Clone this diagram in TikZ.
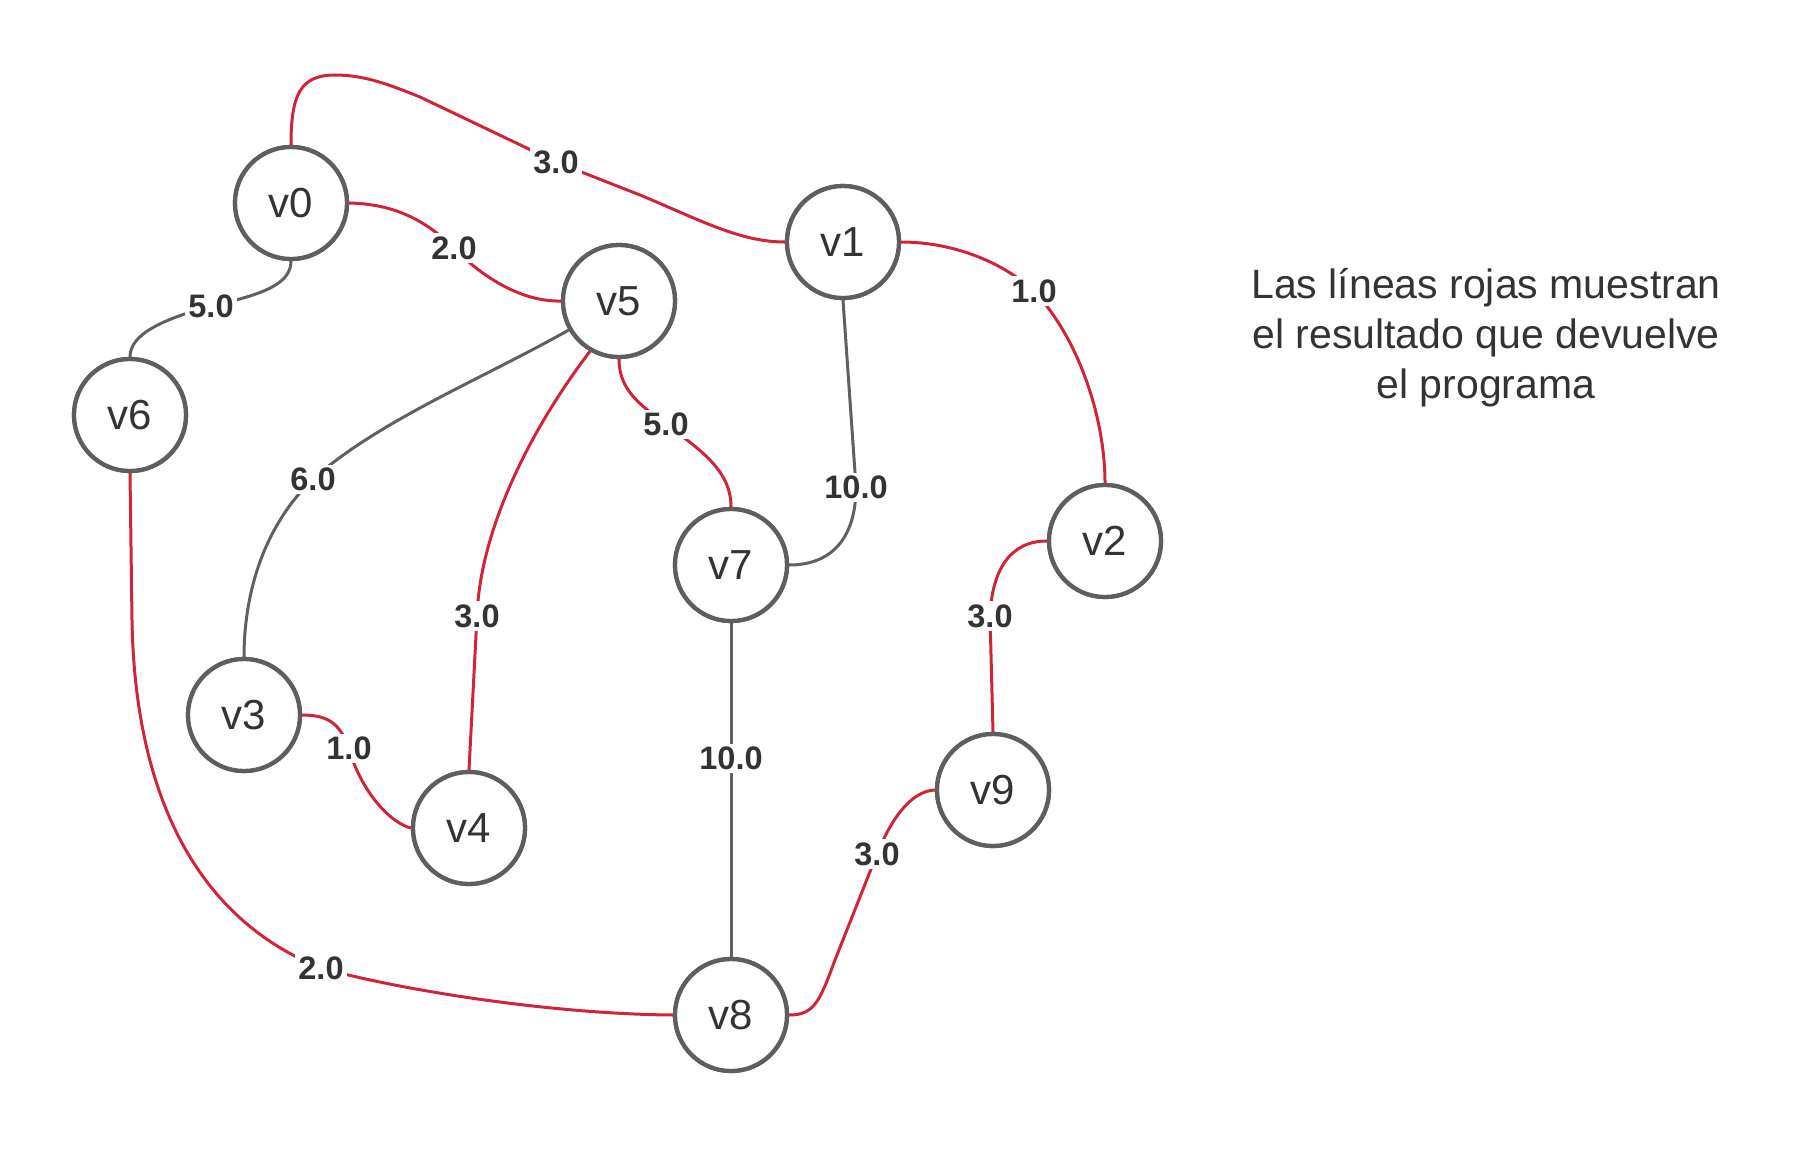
\documentclass[tikz,border=0pt]{standalone}
\usepackage{fontspec}
\setmainfont{Liberation Sans}
\definecolor{edgered}{RGB}{206,38,56}
\definecolor{edgegray}{RGB}{96,96,96}
\definecolor{ringgray}{RGB}{94,94,94}
\definecolor{txt}{RGB}{51,51,51}
\begin{document}
\begin{tikzpicture}[x=1pt,y=-1pt,
  vert/.style={circle,draw=ringgray,line width=4.3pt,minimum size=112pt,inner sep=0pt,fill=white,
    text=txt,font=\fontsize{42}{46}\selectfont},
  redge/.style={draw=edgered,line width=3pt},
  gedge/.style={draw=edgegray,line width=3pt},
  lbl/.style={fill=white,inner sep=3pt,text=txt,font=\fontsize{32.5}{36}\selectfont\bfseries},
  legend/.style={text=txt,anchor=base,inner sep=0pt,font=\fontsize{41}{48}\selectfont}]
\useasboundingbox (0,0) rectangle (1811,1148);
\node[vert] (v0) at (291,203) {v0};
\node[vert] (v1) at (843,242) {v1};
\node[vert] (v5) at (619,301) {v5};
\node[vert] (v6) at (130,415) {v6};
\node[vert] (v2) at (1105,541) {v2};
\node[vert] (v7) at (731,565) {v7};
\node[vert] (v3) at (244,715) {v3};
\node[vert] (v4) at (469,828) {v4};
\node[vert] (v9) at (993,790) {v9};
\node[vert] (v8) at (731,1015) {v8};
\coordinate (c1) at (556,162);
\coordinate (c2) at (454,248);
\coordinate (c3) at (1034,291);
\coordinate (c4) at (666,424);
\coordinate (c5) at (477,616);
\coordinate (c6) at (349,748);
\coordinate (c7) at (321,968);
\coordinate (c8) at (877,854);
\coordinate (c9) at (990,616);
\coordinate (c10) at (211,306);
\coordinate (c11) at (313,479);
\coordinate (c12) at (856,487);
\coordinate (c13) at (731,758);
% red edges
\path[redge] (v0.north) .. controls (291,95) and (300,75) .. (335,75) .. controls (365,75) and (390,85) .. (420,97) -- (c1) -- (640,195) .. controls (700,220) and (740,242) .. (v1.west);
\path[redge] (v0.east) .. controls (400,204) and (430,225) .. (c2) .. controls (480,275) and (520,302) .. (v5.west);
\path[redge] (v1.east) .. controls (950,242) and (1000,260) .. (c3) .. controls (1080,340) and (1105,420) .. (v2.north);
\path[redge] (v5.south) .. controls (619,390) and (640,405) .. (c4) .. controls (700,450) and (731,470) .. (v7.north);
\path[redge] (v5.-120) .. controls (530,430) and (480,530) .. (c5) -- (v4.north);
\path[redge] (v3.east) .. controls (330,715) and (340,725) .. (c6) .. controls (360,790) and (390,823) .. (v4.west);
\path[redge] (v6.south) -- (132,620) .. controls (135,800) and (200,920) .. (c7) .. controls (400,990) and (550,1014) .. (v8.west);
\path[redge] (v8.east) .. controls (815,1015) and (820,1000) .. (835,960) -- (c8) .. controls (895,810) and (915,791) .. (v9.west);
\path[redge] (v2.west) .. controls (1010,541) and (992,570) .. (c9) -- (v9.north);
% gray edges
\path[gedge] (v0.south) .. controls (291,285) and (260,295) .. (c10) .. controls (160,320) and (130,335) .. (v6.north);
\path[gedge] (v5.-150) .. controls (480,380) and (380,420) .. (c11) .. controls (260,530) and (244,600) .. (v3.north);
\path[gedge] (v1.south) -- (c12) .. controls (856,540) and (830,565) .. (v7.east);
\path[gedge] (v7.south) -- (c13) -- (v8.north);
% labels
\node[lbl] (l1) at (c1) {3.0};
\node[lbl] (l2) at (c2) {2.0};
\node[lbl] (l3) at (c3) {1.0};
\node[lbl] (l4) at (c4) {5.0};
\node[lbl] (l5) at (c5) {3.0};
\node[lbl] (l6) at (c6) {1.0};
\node[lbl] (l7) at (c7) {2.0};
\node[lbl] (l8) at (c8) {3.0};
\node[lbl] (l9) at (c9) {3.0};
\node[lbl] (l10) at (c10) {5.0};
\node[lbl] (l11) at (c11) {6.0};
\node[lbl] (l12) at (c12) {10.0};
\node[lbl] (l13) at (c13) {10.0};
% redraw vertices on top
\node[vert] at (v0) {v0};
\node[vert] at (v1) {v1};
\node[vert] at (v5) {v5};
\node[vert] at (v6) {v6};
\node[vert] at (v2) {v2};
\node[vert] at (v7) {v7};
\node[vert] at (v3) {v3};
\node[vert] at (v4) {v4};
\node[vert] at (v9) {v9};
\node[vert] at (v8) {v8};
% legend
\node[legend] (t1) at (1486,298) {Las líneas rojas muestran};
\node[legend] (t2) at (1486,348) {el resultado que devuelve};
\node[legend] (t3) at (1486,398) {el programa};
\end{tikzpicture}
\end{document}
